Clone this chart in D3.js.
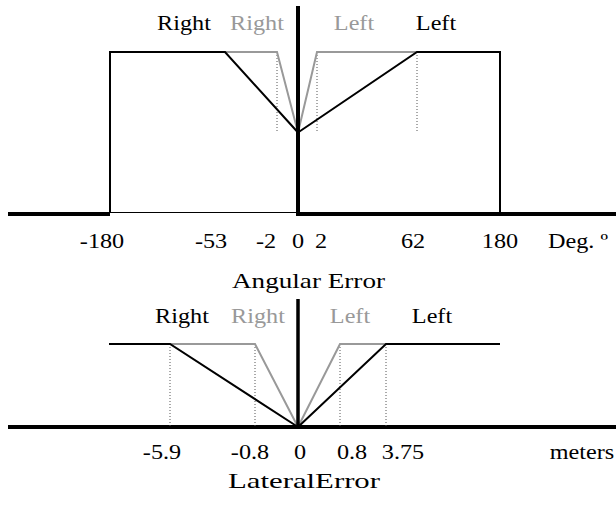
<!DOCTYPE html>
<html>
<head>
<meta charset="utf-8">
<script src="https://cdn.jsdelivr.net/npm/d3@7"></script>
<style>
  body { margin: 0; background: #fff; }
</style>
</head>
<body>
<script>
const width = 616;
const height = 507;
const grey = "#999";
const serif = "'Liberation Serif', 'Times New Roman', Times, serif";

// angular error (degrees), membership 0..1
const angTicks = [-180, -53, -2, 0, 2, 62, 180];
const angRightBlack = [[-180, 0], [-180, 1], [-53, 1], [0, 0.5]];
const angRightGrey = [[-53, 1], [-2, 1], [0, 0.5]];
const angLeftGrey = [[0, 0.5], [2, 1], [62, 1]];
const angLeftBlack = [[0, 0.5], [62, 1], [180, 1], [180, 0]];
const angGuides = [-2, 2, 62];

// lateral error (meters)
const latTicks = [-5.9, -0.8, 0, 0.8, 3.75];
const latExtent = [-10, 10];
const latRightBlack = [[-10, 1], [-5.9, 1], [0, 0]];
const latRightGrey = [[-5.9, 1], [-0.8, 1], [0, 0]];
const latLeftGrey = [[0, 0], [0.8, 1], [3.75, 1]];
const latLeftBlack = [[0, 0], [3.75, 1], [10, 1]];
const latGuides = [-5.9, -0.8, 0.8, 3.75];

const labels = ["Right", "Right", "Left", "Left"];
const labelColors = ["#000", grey, grey, "#000"];

let svg = d3.select("body").append("svg")
  .attr("width", width)
  .attr("height", height);

// the axes are not linear in the source, so piecewise scales
let xA = d3.scaleLinear()
  .domain(angTicks)
  .range([110, 225, 277, 298, 317, 417, 500]);
let yA = d3.scaleLinear().domain([0, 1]).range([213, 52]);

let xL = d3.scaleLinear()
  .domain([latExtent[0]].concat(latTicks, [latExtent[1]]))
  .range([109, 170, 255, 298, 340, 386, 500]);
let yL = d3.scaleLinear().domain([0, 1]).range([427, 344]);

function drawText(x, y, str, color) {
  return svg.append("text")
    .attr("transform", "translate(" + x + "," + y + ") scale(1.1,1)")
    .attr("text-anchor", "middle")
    .attr("font-family", serif)
    .attr("font-size", 22)
    .attr("fill", color || "#000")
    .text(str);
}

function drawChart(xs, ys, series, guides, guideFrom, labelY, labelX) {
  let line = d3.line().x(d => xs(d[0])).y(d => ys(d[1]));

  // dotted guides
  svg.selectAll(null)
    .data(guides)
    .enter().append("line")
    .attr("x1", d => xs(d)).attr("x2", d => xs(d))
    .attr("y1", ys(1)).attr("y2", ys(guideFrom))
    .attr("stroke", "#555")
    .attr("stroke-width", 1)
    .attr("stroke-dasharray", "1,2");

  series.forEach(function(s) {
    svg.append("path")
      .attr("d", line(s.data))
      .attr("fill", "none")
      .attr("stroke", s.color)
      .attr("stroke-width", 2);
  });

  labels.forEach(function(t, i) {
    drawText(labelX[i], labelY, t, labelColors[i]);
  });
}

// ---- angular error ----
// baseline: thick outside, thin under the left box
svg.append("line").attr("x1", 8).attr("x2", xA(-180)).attr("y1", 214).attr("y2", 214)
  .attr("stroke", "#000").attr("stroke-width", 4);
svg.append("line").attr("x1", xA(-180)).attr("x2", xA(0)).attr("y1", 212.5).attr("y2", 212.5)
  .attr("stroke", "#000").attr("stroke-width", 1);
svg.append("line").attr("x1", xA(0)).attr("x2", width).attr("y1", 214).attr("y2", 214)
  .attr("stroke", "#000").attr("stroke-width", 4);

drawChart(xA, yA, [
  {data: angRightGrey, color: grey},
  {data: angLeftGrey, color: grey},
  {data: angRightBlack, color: "#000"},
  {data: angLeftBlack, color: "#000"}
], angGuides, 0.5, 30, [184, 257, 354, 436]);

svg.append("line").attr("x1", xA(0)).attr("x2", xA(0)).attr("y1", 6).attr("y2", 216)
  .attr("stroke", "#000").attr("stroke-width", 4);

const angNudge = [-8, -14, -11, 0, 4, -4, 0];
angTicks.forEach(function(t, i) {
  drawText(xA(t) + angNudge[i], 248, String(t));
});
drawText(578, 248, "Deg. º");
svg.append("text")
  .attr("x", 232).attr("y", 288)
  .attr("textLength", 153).attr("lengthAdjust", "spacingAndGlyphs")
  .attr("font-family", serif)
  .attr("font-size", 22)
  .text("Angular Error");

// ---- lateral error ----
svg.append("line").attr("x1", 8).attr("x2", width).attr("y1", 427).attr("y2", 427)
  .attr("stroke", "#000").attr("stroke-width", 4);

drawChart(xL, yL, [
  {data: latRightGrey, color: grey},
  {data: latLeftGrey, color: grey},
  {data: latRightBlack, color: "#000"},
  {data: latLeftBlack, color: "#000"}
], latGuides, 0, 323, [182, 258, 350, 432]);

svg.append("line").attr("x1", xL(0)).attr("x2", xL(0)).attr("y1", 299).attr("y2", 428)
  .attr("stroke", "#000").attr("stroke-width", 3.5);

const latNudge = [-8, -5, 2, 12, 17];
latTicks.forEach(function(t, i) {
  drawText(xL(t) + latNudge[i], 459, String(t));
});
drawText(582, 459, "meters");
svg.append("text")
  .attr("x", 228).attr("y", 488)
  .attr("textLength", 152).attr("lengthAdjust", "spacingAndGlyphs")
  .attr("font-family", serif)
  .attr("font-size", 22)
  .text("LateralError");
</script>
</body>
</html>
